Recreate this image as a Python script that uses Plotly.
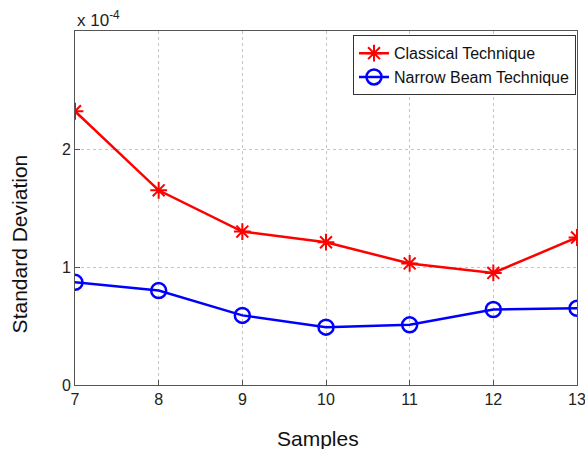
import plotly.graph_objects as go

samples = [7, 8, 9, 10, 11, 12, 13]
classical = [2.32e-4, 1.65e-4, 1.30e-4, 1.21e-4, 1.03e-4, 0.95e-4, 1.25e-4]
narrow = [0.87e-4, 0.80e-4, 0.59e-4, 0.49e-4, 0.51e-4, 0.64e-4, 0.65e-4]
y_tickvals = [0, 1e-4, 2e-4]
y_ticktext = ["0", "1", "2"]
x_ticks = [7, 8, 9, 10, 11, 12, 13]

FONT = "Liberation Sans, Arial, sans-serif"

fig = go.Figure()
fig.add_trace(go.Scatter(
    x=samples, y=classical, mode="lines+markers", name="Classical Technique",
    line=dict(color="#ff0000", width=2.5),
    marker=dict(symbol="asterisk-open", size=14, color="#ff0000",
                line=dict(color="#ff0000", width=2)),
))
fig.add_trace(go.Scatter(
    x=samples, y=narrow, mode="lines+markers", name="Narrow Beam Technique",
    line=dict(color="#0000ff", width=2.5),
    marker=dict(symbol="circle-open", size=15, color="#0000ff",
                line=dict(color="#0000ff", width=2.5)),
))

axis_common = dict(
    showline=True, linecolor="#555555", linewidth=1, mirror=True,
    showgrid=True, gridcolor="#c4c4c4", griddash="dot", gridwidth=1,
    ticks="inside", ticklen=5, tickcolor="#555555",
    tickfont=dict(family=FONT, size=16, color="#222222"),
    ticklabeloverflow="allow",
    automargin=False,
    zeroline=False,
)

fig.update_xaxes(range=[7, 13], tickvals=x_ticks, **axis_common)
fig.update_yaxes(range=[0, 3e-4], tickvals=y_tickvals, ticktext=y_ticktext, **axis_common)

title_font = dict(family=FONT, size=21, color="#111111")
fig.add_annotation(xref="paper", yref="paper", x=-0.1116, y=0.40, xanchor="center", yanchor="middle",
                   text="Standard Deviation", textangle=-90, showarrow=False, font=title_font)
fig.add_annotation(xref="paper", yref="paper", x=0.484, y=-0.150, xanchor="center", yanchor="middle",
                   text="Samples", showarrow=False, font=title_font)

fig.add_annotation(xref="paper", yref="paper", x=0, y=1, xanchor="left", yanchor="bottom",
                   text="x 10<sup>-4</sup>", showarrow=False,
                   font=dict(family=FONT, size=17, color="#222222"), yshift=-1)

fig.update_layout(
    width=585, height=449,
    margin=dict(l=75, r=8, t=31, b=64),
    plot_bgcolor="white", paper_bgcolor="white",
    showlegend=True,
    legend=dict(x=0.998, y=0.988, xanchor="right", yanchor="top",
                bgcolor="white", bordercolor="#333333", borderwidth=1,
                font=dict(family=FONT, size=16, color="#111111"),
                itemwidth=30, tracegroupgap=4),
)

fig.write_html("out.html")
